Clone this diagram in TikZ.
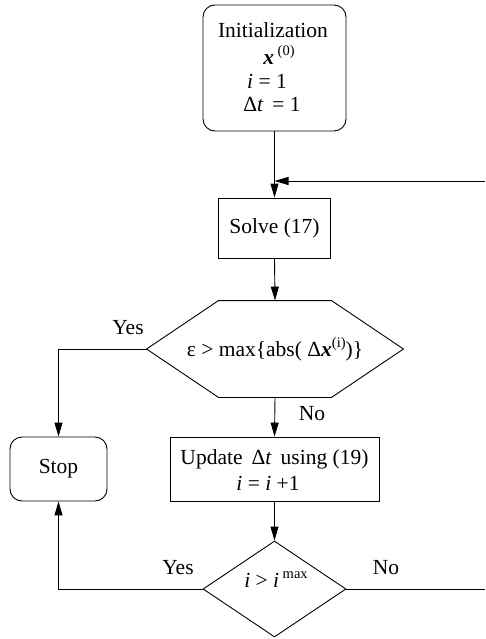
\documentclass[tikz,border=0pt]{standalone}
\usepackage{fontspec}
\setmainfont{Liberation Serif}
\usetikzlibrary{arrows.meta,shapes.geometric}
\newcommand\mysup[1]{\raisebox{0.42em}{\fontsize{14.5}{15}\selectfont #1}}
\begin{document}
\begin{tikzpicture}[x=1pt,y=-1pt,
  font=\fontsize{21.5}{24}\selectfont,
  line width=0.9pt,
  arr/.style={-{Triangle[length=14pt,width=8pt]}},
  rbox/.style={draw,rounded corners=12pt,align=center,inner sep=0pt},
  sbox/.style={draw,align=center,inner sep=0pt},
  lbl/.style={inner sep=0pt}]
\useasboundingbox (0,0) rectangle (485,639);
% nodes
\node[rbox,minimum width=143pt,minimum height=126pt] (init) at (274.5,68) {};
\node[lbl] (t1) at (273,30) {Initialization};
\node[lbl] (t2) at (279,55) {\textbf{\textit{x}}\,\mysup{(0)}};
\node[lbl] (t3) at (267,81) {\textit{i} = 1};
\node[lbl] (t4) at (272,105) {Δ\textit{t}\, = 1};
\node[sbox,minimum width=112pt,minimum height=60pt] (solve) at (274.5,228) {Solve (17)};
\node[lbl,minimum width=256pt,minimum height=96pt] (hex) at (275,349) {ε > max\{abs( Δ\textbf{\textit{x}}\mysup{(i)})\}};
\draw (hex.west) -- ([xshift=72pt]hex.north west) -- ([xshift=-72pt]hex.north east) -- (hex.east) -- ([xshift=-72pt]hex.south east) -- ([xshift=72pt]hex.south west) -- cycle;
\node[rbox,minimum width=97pt,minimum height=64pt] (stop) at (58.5,469) {Stop};
\node[sbox,minimum width=209pt,minimum height=64pt] (upd) at (274.5,469) {};
\node[lbl] (u1) at (274.5,459) {Update\, Δ\textit{t}\, using (19)};
\node[lbl] (u2) at (268,483) {\textit{i} = \textit{i} +1};
\node[draw,diamond,aspect=1.49,minimum width=143pt,minimum height=96pt,inner sep=0pt] (dia) at (274.5,589) {};
\node[lbl] (dt) at (276,580) {\textit{i} > \textit{i}\,\mysup{max}};
% labels
\node[lbl] (yes1) at (128,328) {Yes};
\node[lbl] (no1) at (312,414) {No};
\node[lbl] (yes2) at (178,568) {Yes};
\node[lbl] (no2) at (386,568) {No};
% coordinates
\coordinate (fbR) at (485,181);
\coordinate (fbJ) at (274.5,181);
\coordinate (rend) at (485,589);
% connectors
\draw[arr] (init.south) -- (solve.north);
\draw[arr] (fbR) -- (fbJ);
\draw[arr] (solve.south) -- (hex.north);
\draw[arr] (hex.west) -| (stop.north);
\draw[arr] (hex.south) -- (upd.north);
\draw[arr] (upd.south) -- (dia.north);
\draw[arr] (dia.west) -| (stop.south);
\draw (dia.east) -- (rend);
\end{tikzpicture}
\end{document}
